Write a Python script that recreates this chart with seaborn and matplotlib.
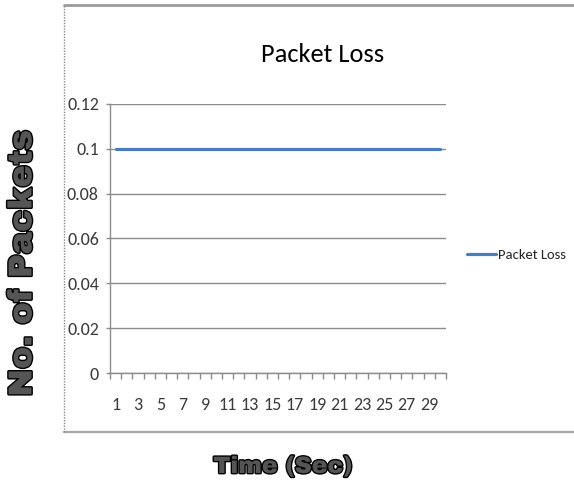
import matplotlib
matplotlib.use("Agg")
import matplotlib.pyplot as plt
import matplotlib.patheffects as pe
from matplotlib.lines import Line2D
import numpy as np
import pandas as pd
import seaborn as sns

# Packet loss per second of simulation
time_sec = list(range(1, 31))
packet_loss = [0.1] * 30
y_ticks = [0, 0.02, 0.04, 0.06, 0.08, 0.1, 0.12]
y_tick_labels = ["0", "0.02", "0.04", "0.06", "0.08", "0.1", "0.12"]
x_tick_labels = [str(t) for t in range(1, 30, 2)]

df = pd.DataFrame({"Time": time_sec, "Packet Loss": packet_loss})

sns.set_theme(style="white")
body = ["Carlito", "DejaVu Sans"]
heavy = ["Archivo Black", "DejaVu Sans"]
plt.rcParams["font.family"] = body

W, H = 574, 491
fig = plt.figure(figsize=(W / 100, H / 100), dpi=100)
fig.patch.set_facecolor("white")

# chart frame
fx0, fx1, fy0, fy1 = 64 / W, 573.5 / W, 1 - 432 / H, 1 - 5 / H
fig.add_artist(Line2D([fx0, fx1], [fy1, fy1], color="#9a9a9a", lw=2.0, transform=fig.transFigure))
fig.add_artist(Line2D([fx0, fx1], [fy0, fy0], color="#a8a8a8", lw=1.6, transform=fig.transFigure))
fig.add_artist(Line2D([fx0, fx0], [fy0, fy1], color="#8a8a8a", lw=1.0, ls=(0, (1, 1)), transform=fig.transFigure))

ax = fig.add_axes([110 / W, 1 - 373 / H, (446 - 110) / W, (373 - 104) / H])
sns.lineplot(data=df, x="Time", y="Packet Loss", ax=ax, color="#4A7EBB", lw=2.3, legend=False)

ax.set_xlim(0.5, 30.5)
ax.set_ylim(0, 0.12)
ax.set_yticks(y_ticks)
ax.set_yticklabels(y_tick_labels)
ax.set_xticks(list(range(1, 30, 2)))
ax.set_xticklabels(x_tick_labels)
ax.set_xticks(np.arange(0.5, 31, 1.0), minor=True)
ax.set_xlabel("")
ax.set_ylabel("")

ax.grid(axis="y", color="#8c8c8c", lw=1.0)
ax.grid(axis="x", visible=False)
ax.set_axisbelow(True)
for s in ["top", "right"]:
    ax.spines[s].set_visible(False)
for s in ["left", "bottom"]:
    ax.spines[s].set_color("#8c8c8c")
    ax.spines[s].set_linewidth(1.0)

ax.tick_params(axis="y", which="major", direction="out", length=3, width=1, color="#8c8c8c",
               pad=5, labelsize=13, labelcolor="#3a3a3a", left=True)
ax.tick_params(axis="x", which="major", length=0, pad=17, labelsize=13, labelcolor="#3a3a3a", bottom=True)
ax.tick_params(axis="x", which="minor", direction="out", length=4, width=1, color="#8c8c8c", bottom=True)

# title
fig.text(323 / W, 1 - 62 / H, "Packet Loss", ha="center", va="baseline",
         fontsize=19, color="black", family=body)

# legend
handle = Line2D([], [], color="#4A7EBB", lw=2.3)
fig.legend([handle], ["Packet Loss"], loc="center left", bbox_to_anchor=(467 / W, 1 - 255 / H),
           frameon=False, handlelength=2.0, handletextpad=0.1, borderpad=0, borderaxespad=0,
           prop={"family": body, "size": 10.5})

# outer axis captions
outline = [pe.withStroke(linewidth=2.0, foreground="black")]
fig.text(23 / W, 1 - 263 / H, "No. of Packets", rotation=90, ha="center", va="center",
         fontsize=24, color="#555555", family=heavy, path_effects=outline)
fig.text(283 / W, 1 - 467 / H, "Time (Sec)", ha="center", va="center",
         fontsize=17, color="#555555", family=heavy, path_effects=outline)

fig.savefig("out.png", dpi=100, facecolor="white")
